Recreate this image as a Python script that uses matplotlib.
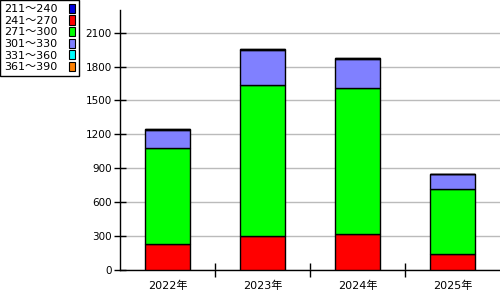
import numpy as np
import matplotlib
matplotlib.use("Agg")
from matplotlib import pyplot as plt
from matplotlib.patches import Patch

plt.rcParams['font.family'] = ['DejaVu Sans', 'Noto Sans CJK JP']

# === dados ===
anos = ['2022年', '2023年', '2024年', '2025年']
faixas = ['211～240', '241～270', '271～300', '301～330', '331～360', '361～390']
cores = ['#0000dd', '#ff0000', '#00ff00', '#8080ff', '#00ffff', '#ff8000']
v_211_240 = [0, 0, 0, 0]
v_241_270 = [228, 298, 316, 139]
v_271_300 = [850, 1338, 1293, 576]
v_301_330 = [162, 310, 257, 133]
v_331_360 = [8, 9, 9, 0]
v_361_390 = [0, 0, 0, 0]
series = [v_211_240, v_241_270, v_271_300, v_301_330, v_331_360, v_361_390]

# === grafico ===
fig = plt.figure(figsize=(5, 3), dpi=100)
ax = fig.add_axes([0.24, 0.1, 0.76, 260 / 300])

x = np.arange(len(anos))
base = np.zeros(len(anos))
for vals, cor in zip(series, cores):
    vals = np.array(vals, dtype=float)
    ax.bar(x, vals, width=0.47, bottom=base, color=cor, edgecolor='black',
           linewidth=1, zorder=3)
    base = base + vals

ax.set_xlim(-0.5, len(anos) - 0.5)
ax.set_ylim(0, 2300)
ax.set_yticks(np.arange(0, 2101, 300))
ax.set_xticks(x)
ax.set_xticklabels(anos, fontsize=8)
ax.set_xticks(np.arange(0.5, len(anos) - 0.5, 1), minor=True)
ax.tick_params(axis='x', which='major', length=0, pad=8)
ax.tick_params(axis='x', which='minor', direction='inout', length=10, width=1)
ax.tick_params(axis='y', direction='inout', length=8, width=1, labelsize=7.5, pad=2)
ax.grid(axis='y', color='#bbbbbb', linewidth=1, zorder=0)
ax.spines['top'].set_visible(False)
ax.spines['right'].set_visible(False)
ax.spines['left'].set_linewidth(1)
ax.spines['bottom'].set_linewidth(1)

handles = [Patch(facecolor=c, edgecolor='black', linewidth=0.8) for c in cores]
leg = fig.legend(handles, faixas, loc='upper left', bbox_to_anchor=(0.0, 1.0),
                 markerfirst=False, fontsize=8, handlelength=0.6, handleheight=0.9,
                 handletextpad=1.0, labelspacing=0.1, borderpad=0.35,
                 borderaxespad=0, fancybox=False, edgecolor='black', framealpha=1)
leg.get_frame().set_linewidth(1)

plt.savefig('out.png', dpi=100)
